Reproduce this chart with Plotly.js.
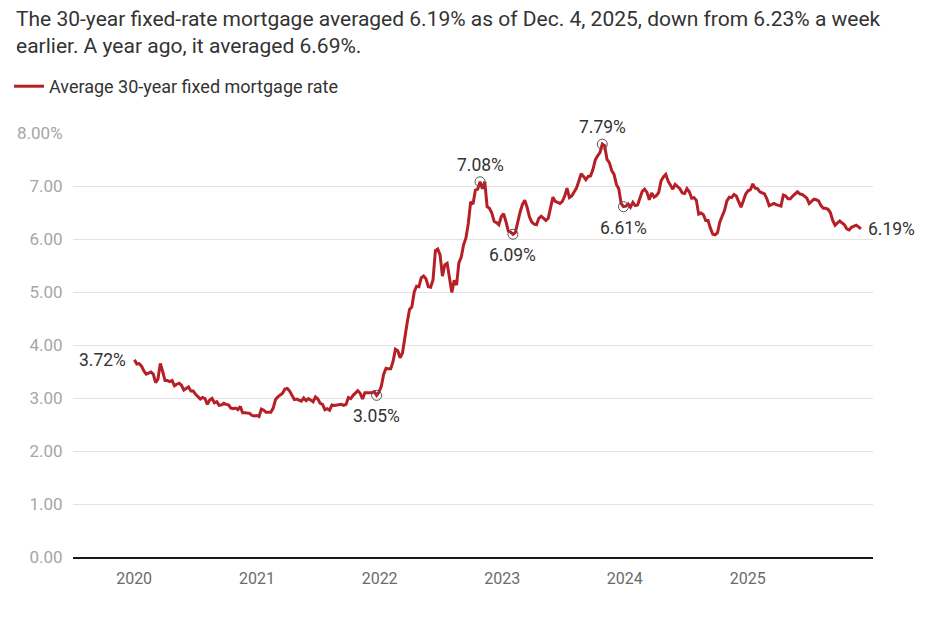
<!DOCTYPE html>
<html>
<head>
<meta charset="utf-8">
<script src="https://cdn.plot.ly/plotly-3.0.1.min.js"></script>
<style>
  html, body { margin: 0; padding: 0; background: #fff; }
  #chart { width: 930px; height: 620px; }
</style>
</head>
<body>
<div id="chart"></div>
<script>
// Weekly average 30-year fixed mortgage rate (%), one array per year.
// First weekly reading of each year:
const yearStarts = ['2020-01-02', '2021-01-07', '2022-01-06', '2023-01-05', '2024-01-04', '2025-01-02'];

const rates2020 = [3.72,3.64,3.65,3.60,3.51, 3.45,3.47,3.49,3.45, 3.29,3.36,3.65,3.50, 3.33,3.33,3.31,3.33,3.23,
  3.26,3.28,3.24,3.15, 3.18,3.21,3.13,3.13, 3.07,3.03,2.98,3.01,2.99, 2.88,2.96,2.99,2.91, 2.93,2.86,2.87,2.90,
  2.88,2.87,2.81,2.80,2.81, 2.78,2.84,2.72,2.72, 2.71,2.71,2.67,2.66,2.67];
const rates2021 = [2.65,2.79,2.77,2.73, 2.73,2.73,2.81,2.97, 3.02,3.05,3.09,3.17, 3.18,3.13,3.04,2.97,2.98,
  2.96,2.94,3.00,2.95, 2.99,2.96,2.93,3.02, 2.98,2.90,2.88,2.78,2.80, 2.77,2.87,2.86,2.87, 2.87,2.88,2.86,2.88,3.01,
  2.99,3.05,3.09,3.14, 3.09,2.98,3.10,3.10, 3.11,3.10,3.12,3.05,3.11];
const rates2022 = [3.22,3.45,3.56,3.55, 3.55,3.69,3.92,3.89, 3.76,3.85,4.16,4.42,4.67, 4.72,5.00,5.11,5.10,
  5.27,5.30,5.25,5.10, 5.09,5.23,5.78,5.81,5.70, 5.30,5.51,5.54,5.30, 4.99,5.22,5.13,5.55, 5.66,5.89,6.02,6.29,6.70,
  6.66,6.92,6.94,7.08, 6.95,7.08,6.61,6.58, 6.49,6.33,6.31,6.27,6.42];
const rates2023 = [6.48,6.33,6.15,6.13, 6.09,6.12,6.32,6.50, 6.65,6.73,6.60,6.42,6.32, 6.28,6.27,6.39,6.43,
  6.39,6.35,6.39,6.57, 6.79,6.71,6.69,6.67,6.71, 6.81,6.96,6.78,6.81, 6.90,6.96,7.09,7.23,7.18, 7.12,7.18,7.19,7.31,
  7.49,7.57,7.63,7.79, 7.76,7.50,7.44,7.29,7.22, 7.03,6.95,6.67,6.61];
const rates2024 = [6.62,6.66,6.60,6.69, 6.63,6.64,6.77,6.90,6.94, 6.88,6.74,6.87,6.79, 6.82,6.88,7.10,7.17,
  7.22,7.09,7.02,6.94,7.03, 6.99,6.95,6.87,6.86, 6.95,6.89,6.77,6.78, 6.73,6.47,6.49,6.46,6.35, 6.35,6.20,6.09,6.08,
  6.12,6.32,6.44,6.54,6.72, 6.79,6.78,6.84,6.81, 6.69,6.60,6.72,6.85];
const rates2025 = [6.91,6.93,7.04,6.96,6.95, 6.89,6.87,6.85,6.76, 6.63,6.65,6.67,6.65, 6.64,6.62,6.83,6.81,
  6.76,6.76,6.81,6.86,6.89, 6.85,6.84,6.81,6.77, 6.67,6.72,6.75,6.74,6.72, 6.63,6.58,6.58,6.56, 6.50,6.35,6.26,6.30,
  6.34,6.30,6.27,6.19,6.17, 6.22,6.24,6.26,6.23, 6.19];

const yearlyRates = [rates2020, rates2021, rates2022, rates2023, rates2024, rates2025];

// Highlighted weeks (circled) and where their labels go
const highlightDates = ['2021-12-23', '2022-10-27', '2023-02-02', '2023-10-26', '2023-12-28'];
const highlightSides = ['below', 'above', 'below', 'above', 'below'];

const xTickVals = ['2020-01-01','2021-01-01','2022-01-01','2023-01-01','2024-01-01','2025-01-01'];
const xTickText = ['2020','2021','2022','2023','2024','2025'];
const yTickVals = [0,1,2,3,4,5,6,7,8];
const yTickText = ['0.00','1.00','2.00','3.00','4.00','5.00','6.00','7.00','8.00%'];

const titleText = 'The 30-year fixed-rate mortgage averaged 6.19% as of Dec. 4, 2025, down from 6.23% a week<br>earlier. A year ago, it averaged 6.69%.';

// ---- build weekly series (readings are weekly) ----
const dates = [], values = [];
yearlyRates.forEach((arr, yi) => {
  const d0 = new Date(yearStarts[yi] + 'T00:00:00Z');
  arr.forEach((v, i) => {
    const d = new Date(d0.getTime() + i * 7 * 86400000);
    dates.push(d.toISOString().slice(0, 10));
    values.push(v);
  });
});

const hlX = [], hlY = [];
highlightDates.forEach(hd => {
  const idx = dates.indexOf(hd);
  hlX.push(dates[idx]); hlY.push(values[idx]);
});

const LINE = '#b71f26';
const TXT = '#333333';
const FONT = 'Roboto, "Open Sans", Arial, sans-serif';

const traces = [
  {
    type: 'scatter', mode: 'lines', name: 'Average 30-year fixed mortgage rate',
    x: dates, y: values,
    line: { color: LINE, width: 3, shape: 'linear' },
    hoverinfo: 'x+y'
  },
  {
    type: 'scatter', mode: 'markers', showlegend: false,
    x: hlX, y: hlY,
    marker: { symbol: 'circle-open', size: 10, color: '#555', line: { width: 1, color: '#555' } },
    hoverinfo: 'skip'
  }
];

const annotations = [];
hlX.forEach((x, i) => {
  const above = highlightSides[i] === 'above';
  annotations.push({
    x: x, y: hlY[i], xref: 'x', yref: 'y',
    text: hlY[i].toFixed(2) + '%', showarrow: false,
    xanchor: 'center', yanchor: above ? 'bottom' : 'top',
    yshift: above ? 5 : -9,
    font: { family: FONT, size: 17.5, color: TXT }
  });
});
// first and last readings
annotations.push({
  x: dates[0], y: values[0], xref: 'x', yref: 'y',
  text: values[0].toFixed(2) + '%', showarrow: false,
  xanchor: 'right', yanchor: 'middle', xshift: -6,
  font: { family: FONT, size: 17.5, color: TXT }
});
annotations.push({
  x: dates[dates.length - 1], y: values[values.length - 1], xref: 'x', yref: 'y',
  text: values[values.length - 1].toFixed(2) + '%', showarrow: false,
  xanchor: 'left', yanchor: 'middle', xshift: 5,
  font: { family: FONT, size: 17.5, color: TXT }
});
// chart title (two lines, left aligned)
annotations.push({
  xref: 'paper', yref: 'paper',
  x: (14 - 73) / 800, y: (557 - 5) / 424,
  xanchor: 'left', yanchor: 'top', align: 'left',
  text: titleText, showarrow: false,
  font: { family: FONT, size: 21, color: TXT }
});

const layout = {
  width: 930, height: 620,
  margin: { l: 73, r: 57, t: 133, b: 63 },
  paper_bgcolor: '#ffffff', plot_bgcolor: '#ffffff',
  font: { family: FONT, color: TXT },
  showlegend: true,
  legend: {
    orientation: 'h', xref: 'container', yref: 'container',
    x: 9 / 930, xanchor: 'left', y: 1 - 68 / 620, yanchor: 'top',
    font: { family: FONT, size: 18, color: TXT },
    bgcolor: 'rgba(0,0,0,0)', itemwidth: 30
  },
  xaxis: {
    type: 'date',
    range: ['2019-07-03', '2026-01-09'],
    tickvals: xTickVals, ticktext: xTickText,
    showgrid: false, zeroline: false,
    showline: true, linecolor: '#1a1a1a', linewidth: 2,
    ticks: 'outside', ticklen: 6, tickcolor: 'rgba(0,0,0,0)',
    tickfont: { family: FONT, size: 16, color: '#6b6b6b' },
    fixedrange: true
  },
  yaxis: {
    range: [0, 8],
    tickvals: yTickVals, ticktext: yTickText,
    showgrid: true, gridcolor: '#e3e3e3', gridwidth: 1,
    zeroline: false, showline: false,
    ticks: 'outside', ticklen: 6, tickcolor: 'rgba(0,0,0,0)',
    tickfont: { family: FONT, size: 17, color: '#a6a6a6' },
    fixedrange: true
  },
  annotations: annotations
};

Plotly.newPlot('chart', traces, layout, { displayModeBar: false, responsive: false, staticPlot: true });
</script>
</body>
</html>
